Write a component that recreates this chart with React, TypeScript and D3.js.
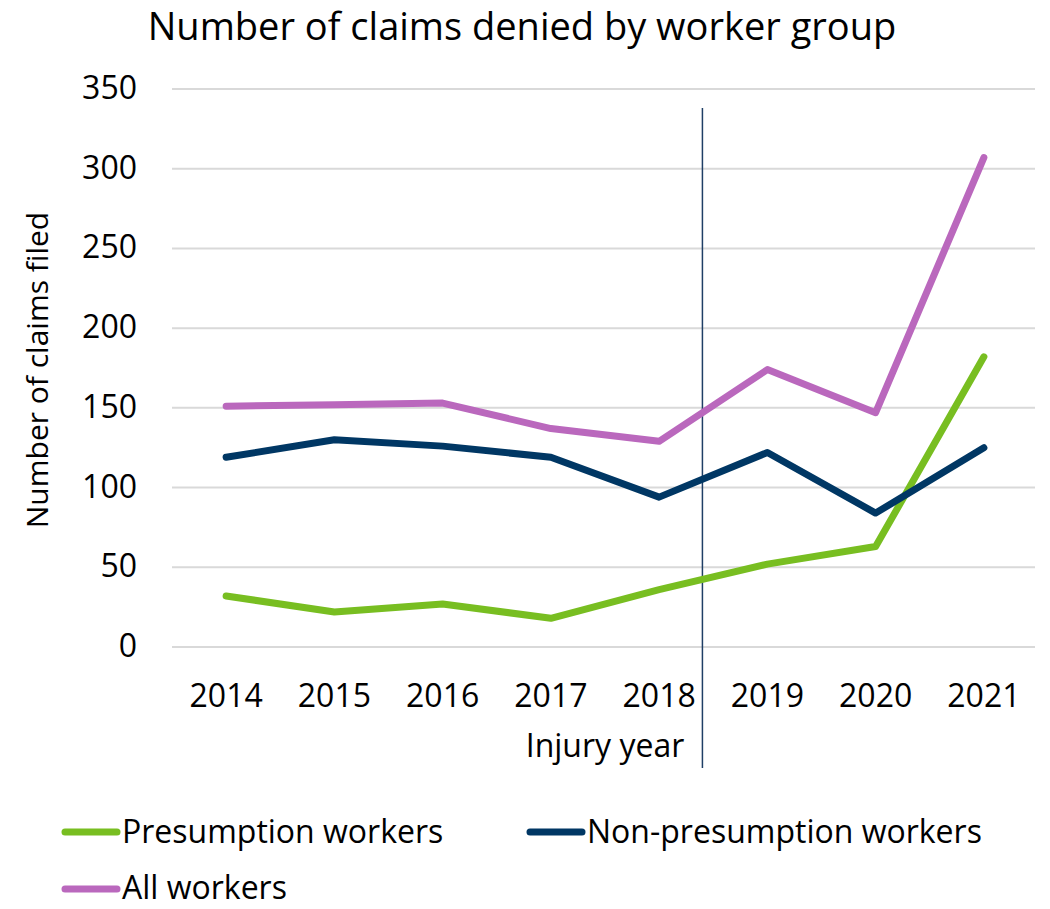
import React from "react";
import * as d3 from "d3";

const years = [2014, 2015, 2016, 2017, 2018, 2019, 2020, 2021];
const presumption = [32, 22, 27, 18, 36, 52, 63, 182];
const nonPresumption = [119, 130, 126, 119, 94, 122, 84, 125];
const allWorkers = [151, 152, 153, 137, 129, 174, 147, 307];
const yTicks = [0, 50, 100, 150, 200, 250, 300, 350];
const markerYear = 2018.4;

const seriesNames = ["Presumption workers", "Non-presumption workers", "All workers"];
const seriesColors = ["#78BE21", "#003764", "#BA68BD"];

const W = 1050;
const H = 909;
const left = 172;
const right = 1038;
const top = 89;
const bottom = 647;
const FONT = "'Open Sans', sans-serif";

export default function App() {
  const x = d3.scaleLinear().domain([2013.5, 2021.5]).range([left, right]);
  const y = d3.scaleLinear().domain([0, 350]).range([bottom, top]);
  const line = d3
    .line<number>()
    .x((_, i) => x(years[i]))
    .y((d) => y(d));
  const series = [presumption, nonPresumption, allWorkers];

  const legendItems = [
    { name: seriesNames[0], color: seriesColors[0], lx: 62, ly: 832, ty: 843 },
    { name: seriesNames[1], color: seriesColors[1], lx: 527, ly: 832, ty: 843 },
    { name: seriesNames[2], color: seriesColors[2], lx: 62, ly: 889, ty: 899 },
  ];

  return (
    <svg
      width={W}
      height={H}
      style={{ position: "absolute", left: 0, top: 0, background: "#fff" }}
      fontFamily={FONT}
    >
      <rect width={W} height={H} fill="#fff" />
      <text x={522} y={40} textAnchor="middle" fontSize={38} fill="#000">
        Number of claims denied by worker group
      </text>
      {yTicks.map((t) => (
        <g key={t}>
          <line x1={left} x2={right - 3} y1={y(t)} y2={y(t)} stroke="#D9D9D9" strokeWidth={2} />
          <text x={137} y={y(t) + 10} textAnchor="end" fontSize={32} fill="#000">
            {t}
          </text>
        </g>
      ))}
      {years.map((yr) => (
        <text key={yr} x={x(yr)} y={707} textAnchor="middle" fontSize={32} fill="#000">
          {yr}
        </text>
      ))}
      <text x={605} y={757} textAnchor="middle" fontSize={32} fill="#000">
        Injury year
      </text>
      <text
        transform={`translate(48, 370) rotate(-90)`}
        textAnchor="middle"
        fontSize={30}
        fill="#000"
      >
        Number of claims filed
      </text>
      <line
        x1={x(markerYear)}
        x2={x(markerYear)}
        y1={108}
        y2={768}
        stroke="#1F3F66"
        strokeWidth={1.5}
      />
      {series.map((s, i) => (
        <path
          key={i}
          d={line(s) || ""}
          fill="none"
          stroke={seriesColors[i]}
          strokeWidth={7}
          strokeLinejoin="round"
          strokeLinecap="round"
        />
      ))}
      {legendItems.map((it) => (
        <g key={it.name}>
          <line
            x1={it.lx + 3}
            x2={it.lx + 55}
            y1={it.ly}
            y2={it.ly}
            stroke={it.color}
            strokeWidth={7}
            strokeLinecap="round"
          />
          <text x={it.lx + 60} y={it.ty} fontSize={32} fill="#000">
            {it.name}
          </text>
        </g>
      ))}
    </svg>
  );
}
